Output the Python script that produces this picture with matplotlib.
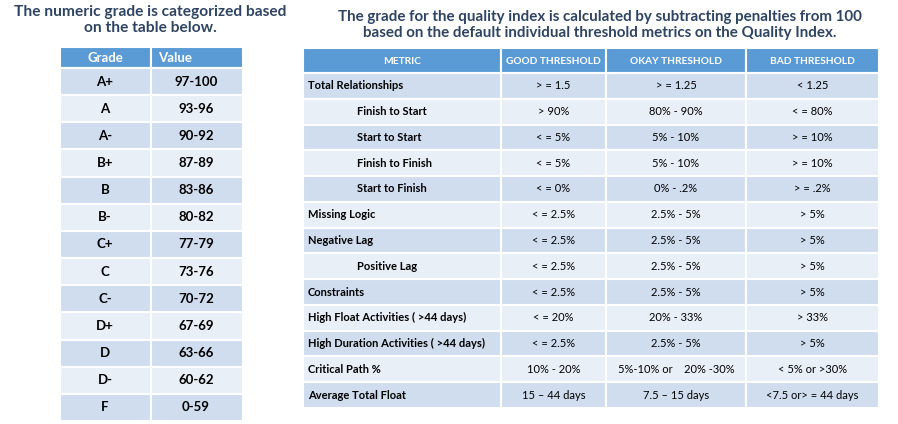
import matplotlib.pyplot as plt
from matplotlib.patches import Rectangle

# grade table
grades = ["A+", "A", "A-", "B+", "B", "B-", "C+", "C", "C-", "D+", "D", "D-", "F"]
grade_values = ["97-100", "93-96", "90-92", "87-89", "83-86", "80-82", "77-79",
                "73-76", "70-72", "67-69", "63-66", "60-62", "0-59"]

# quality index table
metric_headers = ["METRIC", "GOOD THRESHOLD", "OKAY THRESHOLD", "BAD THRESHOLD"]
metrics = ["Total Relationships", "Finish to Start", "Start to Start", "Finish to Finish",
           "Start to Finish", "Missing Logic", "Negative Lag", "Positive Lag", "Constraints",
           "High Float Activities ( >44 days)", "High Duration Activities ( >44 days)",
           "Critical Path %", "Average Total Float"]
indented = [False, True, True, True, True, False, False, True, False, False, False, False, False]
good = ["> = 1.5", "> 90%", "< = 5%", "< = 5%", "< = 0%", "< = 2.5%", "< = 2.5%", "< = 2.5%",
        "< = 2.5%", "< = 20%", "< = 2.5%", "10% - 20%", "15 \u2013 44 days"]
okay = ["> = 1.25", "80% - 90%", "5% - 10%", "5% - 10%", "0% - .2%", "2.5% - 5%", "2.5% - 5%",
        "2.5% - 5%", "2.5% - 5%", "20% - 33%", "2.5% - 5%", "5%-10% or    20% -30%",
        "7.5 \u2013 15 days"]
bad = ["< 1.25", "< = 80%", "> = 10%", "> = 10%", "> = .2%", "> 5%", "> 5%", "> 5%", "> 5%",
       "> 33%", "> 5%", "< 5% or >30%", "<7.5 or> = 44 days"]

HEAD = "#5B9BD5"
DARK = "#D0DDEE"
LIGHT = "#E9EFF7"
TITLE = "#2E4462"
FONT = ["Lato", "DejaVu Sans"]

fig = plt.figure(figsize=(8.98, 4.24), dpi=100)
ax = fig.add_axes([0, 0, 1, 1])
ax.set_xlim(0, 898)
ax.set_ylim(424, 0)
ax.axis("off")


def cell(x0, x1, y0, y1, color):
    ax.add_patch(Rectangle((x0, y0), x1 - x0, y1 - y0, facecolor=color,
                           edgecolor="white", linewidth=1.5))


# titles
ax.text(150, 20, "The numeric grade is categorized based\non the table below.",
        ha="center", va="center", fontsize=11.2, fontweight="bold", color=TITLE,
        family=FONT, linespacing=1.15)
ax.text(600, 25, "The grade for the quality index is calculated by subtracting penalties from 100\n"
        "based on the default individual threshold metrics on the Quality Index.",
        ha="center", va="center", fontsize=10.9, fontweight="bold", color=TITLE,
        family=FONT, linespacing=1.1)

# left table
lx = [60, 151, 243]
top, head_h = 47, 21
row_h = (421 - (top + head_h)) / len(grades)
cell(lx[0], lx[1], top, top + head_h, HEAD)
cell(lx[1], lx[2], top, top + head_h, HEAD)
ax.text(105, top + head_h / 2, "Grade", ha="center", va="center", color="white",
        fontsize=9.5, fontweight="bold", family=FONT)
ax.text(158, top + head_h / 2, "Value", ha="left", va="center", color="white",
        fontsize=9.5, fontweight="bold", family=FONT)
for i, (g, v) in enumerate(zip(grades, grade_values)):
    y0 = top + head_h + i * row_h
    col = DARK if i % 2 == 0 else LIGHT
    cell(lx[0], lx[1], y0, y0 + row_h, col)
    cell(lx[1], lx[2], y0, y0 + row_h, col)
    ax.text(105, y0 + row_h / 2, g, ha="center", va="center", fontsize=9.5,
            fontweight="bold", family=FONT)
    ax.text(196, y0 + row_h / 2, v, ha="center", va="center", fontsize=9.5,
            fontweight="bold", family=FONT)

# right table
rx = [303, 501, 606, 746, 879]
rtop, rhead_h = 48, 25
rrow_h = (408 - (rtop + rhead_h)) / len(metrics)
for j, h in enumerate(metric_headers):
    cell(rx[j], rx[j + 1], rtop, rtop + rhead_h, HEAD)
    ax.text((rx[j] + rx[j + 1]) / 2, rtop + rhead_h / 2 + 1, h, ha="center", va="center",
            color="white", fontsize=7.3, fontweight="bold", family=FONT)
for i in range(len(metrics)):
    y0 = rtop + rhead_h + i * rrow_h
    col = DARK if i % 2 == 0 else LIGHT
    for j in range(4):
        cell(rx[j], rx[j + 1], y0, y0 + rrow_h, col)
    yc = y0 + rrow_h / 2
    ax.text(357 if indented[i] else 308, yc, metrics[i], ha="left", va="center",
            fontsize=8, fontweight="bold", family=FONT)
    for j, vals in enumerate([good, okay, bad]):
        ax.text((rx[j + 1] + rx[j + 2]) / 2, yc, vals[i], ha="center", va="center",
                fontsize=8, family=FONT)

fig.savefig("out.png", dpi=100)
